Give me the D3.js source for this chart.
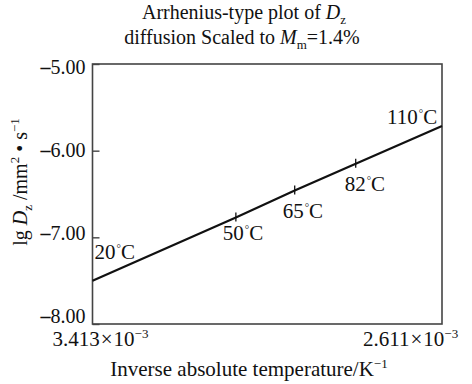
<!DOCTYPE html>
<html>
<head>
<meta charset="utf-8">
<script src="https://cdn.jsdelivr.net/npm/d3@7"></script>
<style>
  html, body { margin: 0; padding: 0; background: #fff; }
  svg { display: block; font-family: "Liberation Serif", "Times New Roman", serif; }
  svg text { font-family: "Liberation Serif", "Times New Roman", serif; }
</style>
</head>
<body>
<svg id="chart" width="472" height="384"></svg>
<script>
// Temperatures marked along the Arrhenius line (°C)
const tempLabels = ["20", "50", "65", "82", "110"];
// Inverse absolute temperature (×10⁻³ K⁻¹)
const invTemp = [3.413, 3.084, 2.949, 2.809, 2.611];
// lg Dz (mm²·s⁻¹)
const lgD = [-7.50, -6.77, -6.46, -6.15, -5.715];
// Axis ticks
const yTicks = [-5, -6, -7, -8];
const xTickLabels = ["3.413", "2.611"];

const FS = 20;
const svg = d3.select("#chart");
const m = { left: 92.5, right: 442, top: 64, bottom: 324 };

const x = d3.scaleLinear().domain([3.413, 2.611]).range([m.left, m.right]);
const y = d3.scaleLinear().domain([-8, -5]).range([m.bottom, m.top]);
// tick labels sit slightly inside the end ticks
const yLab = d3.scaleLinear().domain([-8, -5]).range([315.5, 67]);

// Frame
svg.append("rect")
  .attr("x", m.left).attr("y", m.top)
  .attr("width", m.right - m.left).attr("height", m.bottom - m.top)
  .attr("fill", "none").attr("stroke", "#444").attr("stroke-width", 1.6);

// Y axis: inward ticks, labels on the left
const yAxis = d3.axisLeft(y).tickValues(yTicks).tickSizeInner(-7).tickSizeOuter(0)
  .tickFormat(d => d3.format(".2f")(d));
const gy = svg.append("g").attr("transform", `translate(${m.left},0)`).call(yAxis);
gy.attr("font-family", null).attr("font-size", null);
gy.select(".domain").remove();
gy.selectAll(".tick line").attr("stroke", "#444").attr("stroke-width", 1.4);
gy.selectAll(".tick text")
  .attr("x", -7)
  .attr("y", d => yLab(d) - y(d))
  .attr("dy", "0.34em")
  .attr("font-size", FS).attr("fill", "#111")
  .each(function() {
    // wide, heavy minus sign
    const s = d3.select(this), t = s.text();
    s.text("");
    s.append("tspan").attr("font-weight", "bold").text("\u2013");
    s.append("tspan").text(t.replace("\u2212", "").replace("-", ""));
  });

// X tick labels at the two ends of the axis
const xl = svg.append("g");
xTickLabels.forEach((t, i) => {
  const v = +t;
  const tx = xl.append("text")
    .attr("x", i === 0 ? x(v) - 40 : x(v) - 79)
    .attr("y", 346).attr("font-size", FS + 1).attr("fill", "#111");
  tx.append("tspan").text(t);
  tx.append("tspan").attr("dx", 1).text("\u00d7");
  tx.append("tspan").attr("dx", 1).text("10");
  tx.append("tspan").attr("dy", -8).attr("font-size", 13).text("\u2212" + "3");
});

// Arrhenius line
const pts = invTemp.map((v, i) => [x(v), y(lgD[i])]);
svg.append("path")
  .attr("d", d3.line()(pts))
  .attr("fill", "none").attr("stroke", "#111").attr("stroke-width", 2.2);

// Small cross-ticks at the interior temperatures
svg.selectAll(".mark").data(pts.slice(1, 4)).join("line")
  .attr("x1", d => d[0]).attr("x2", d => d[0])
  .attr("y1", d => d[1] - 5).attr("y2", d => d[1] + 4)
  .attr("stroke", "#111").attr("stroke-width", 1.3);

// Temperature labels
const offs = [[2, -22], [-13, 23], [-12, 27], [-11, 27], [-55, -2]];
const tl = svg.selectAll(".tl").data(pts).join("text")
  .attr("x", (d, i) => d[0] + offs[i][0])
  .attr("y", (d, i) => d[1] + offs[i][1])
  .attr("font-size", FS + 1).attr("fill", "#111");
tl.append("tspan").text((d, i) => tempLabels[i]);
tl.append("tspan").attr("dx", 1).attr("dy", -7).attr("font-size", 11).text("°");
tl.append("tspan").attr("dy", 7).text("C");

// Title
const t1 = svg.append("text").attr("x", 244).attr("y", 19)
  .attr("text-anchor", "middle").attr("font-size", FS).attr("fill", "#111");
t1.append("tspan").text("Arrhenius-type plot of ");
t1.append("tspan").attr("font-style", "italic").text("D");
t1.append("tspan").attr("dy", 5).attr("font-size", 13).text("z");

const t2 = svg.append("text").attr("x", 242).attr("y", 44)
  .attr("text-anchor", "middle").attr("font-size", FS).attr("fill", "#111");
t2.append("tspan").text("diffusion Scaled to ");
t2.append("tspan").attr("font-style", "italic").text("M");
t2.append("tspan").attr("dy", 5).attr("font-size", 13).text("m");
t2.append("tspan").attr("dy", -5).text("=1.4%");

// X axis title
const xt = svg.append("text").attr("x", 249).attr("y", 376)
  .attr("text-anchor", "middle").attr("font-size", FS + 1).attr("fill", "#111");
xt.append("tspan").text("Inverse absolute temperature/K");
xt.append("tspan").attr("dy", -8).attr("font-size", 13).text("\u2212" + "1");

// Y axis title
const yt = svg.append("text")
  .attr("transform", "translate(27,182) rotate(-90)")
  .attr("text-anchor", "middle").attr("font-size", FS).attr("fill", "#111");
yt.append("tspan").text("lg ");
yt.append("tspan").attr("font-style", "italic").text("D");
yt.append("tspan").attr("dy", 5).attr("font-size", 13).text("z");
yt.append("tspan").attr("dy", -5).text(" /mm");
yt.append("tspan").attr("dy", -8).attr("font-size", 13).text("2");
yt.append("tspan").attr("dy", 8).text(" \u2022 s");
yt.append("tspan").attr("dy", -8).attr("font-size", 13).text("\u2212" + "1");
</script>
</body>
</html>
